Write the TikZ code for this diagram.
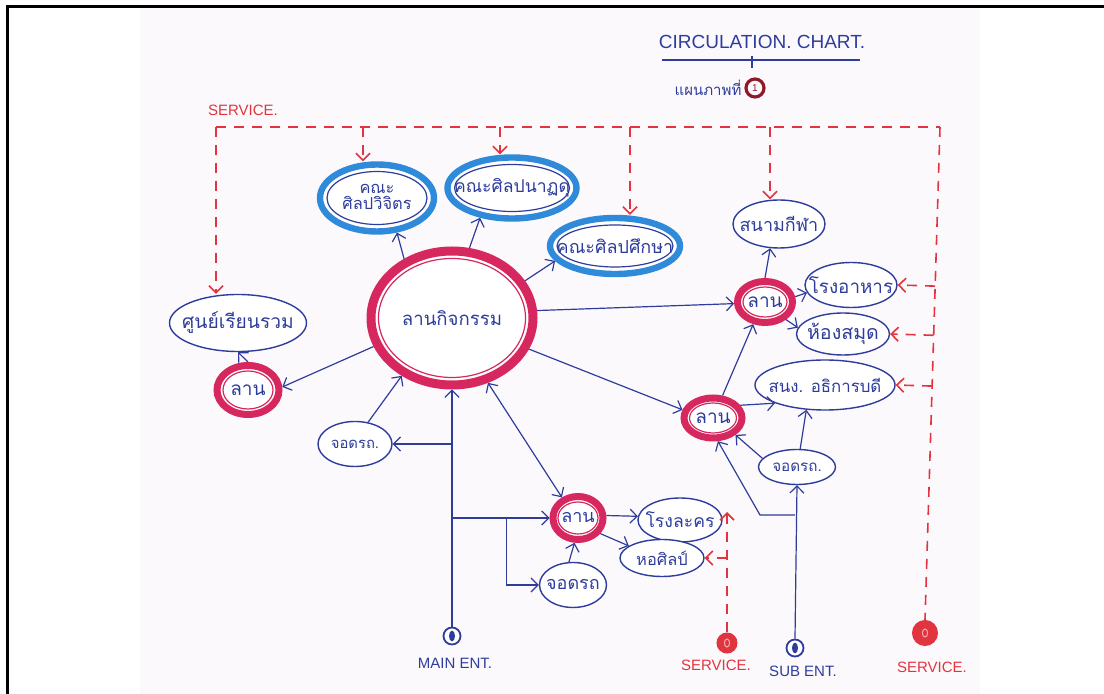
\documentclass[tikz,border=0pt]{standalone}
\usepackage{fontspec}
\setmainfont{Liberation Sans}
\newfontfamily\thai[Script=Thai]{Loma}
\usetikzlibrary{shapes.geometric,arrows.meta,calc}
\definecolor{ink}{HTML}{2E3D9C}
\definecolor{facblue}{HTML}{2F8BDA}
\definecolor{ringred}{HTML}{D6285E}
\definecolor{svcred}{HTML}{E2343F}
\definecolor{paper}{HTML}{FCF9FD}
\definecolor{darkred}{HTML}{8E1A2A}
\newcommand\zt[1]{\makebox[0pt]{#1}}
\begin{document}
\begin{tikzpicture}[x=0.5pt,y=-0.5pt,
  >={Straight Barb[length=3.5pt,width=7pt]},
  fs/.style={font={\thai\fontsize{#1}{#1}\selectfont}},
  conn/.style={draw=ink, line width=0.6pt},
  svc/.style={draw=svcred, line width=0.8pt, dash pattern=on 5pt off 4pt},
  place/.style={ellipse, draw=ink, line width=0.7pt, fill=white, inner sep=0pt, text=ink, fs=9},
  facout/.style={ellipse, draw=facblue, line width=3.2pt, fill=white, inner sep=0pt},
  facin/.style={ellipse, draw=ink, line width=0.6pt, inner sep=0pt, text=ink, fs=9},
  ringout/.style={ellipse, draw=ringred, line width=3.5pt, fill=white, inner sep=0pt},
  ringin/.style={ellipse, draw=ringred, line width=0.6pt, inner sep=0pt, text=ink, fs=9.5},
  entB/.style={circle, draw=ink, line width=0.9pt, minimum size=8.5pt, inner sep=0pt, fill=white,
    path picture={\fill[ink, rotate=15] (path picture bounding box.center) ellipse (1.5pt and 2.7pt);}},
  entR/.style={circle, draw=svcred, fill=svcred, line width=1pt, inner sep=0pt,
    path picture={\draw[svcred!40!white, line width=0.5pt] (path picture bounding box.center) ellipse (1.3pt and 2pt);}},
  lab/.style={font=\fontsize{7.5}{9}\selectfont}
]
\useasboundingbox (0,0) rectangle (1104,694);
\fill[white] (0,0) rectangle (1104,694);
\fill[paper] (140,8) rectangle (980,694);
\draw[black, line width=1.5pt] (7,694) -- (7,7) -- (1104,7);

% title
\node[font=\fontsize{9.5}{11}\selectfont, text=ink] (title) at (762,42) {CIRCULATION. CHART.};
\draw[ink, line width=0.8pt] (662,60) -- (860,60);
\draw[ink, line width=0.6pt] (752,56) -- (752,68);
\node[text=ink, fs=7.5] (sheet) at (708,88) {แผนภาพที่};
\node[circle, draw=darkred, line width=1.6pt, minimum size=9pt, inner sep=0pt, text=darkred, font=\fontsize{5}{5}\selectfont] (num) at (755,88) {1};

% nodes
\node[ringout, line width=4.5pt, minimum width=81pt, minimum height=67pt] (main) at (452,318) {};
\node[ringin, minimum width=73.5pt, minimum height=59.5pt, fs=9.3] (maini) at (main) {\zt{ลานกิจกรรม}};

\node[facout, minimum width=57pt, minimum height=33.5pt] (facA) at (377,198) {};
\node[facin, minimum width=50pt, minimum height=26.5pt, fs=8.2] (facAi) at (facA) {\zt{\begin{tabular}{@{}c@{}}คณะ\\[-1pt]ศิลปวิจิตร\end{tabular}}};
\node[facout, minimum width=64.5pt, minimum height=30.5pt] (facB) at (512,188) {};
\node[facin, minimum width=57.5pt, minimum height=23.5pt, fs=8.8] (facBi) at (facB) {\zt{คณะศิลปนาฏดุ}};
\node[facout, minimum width=65pt, minimum height=28pt] (facC) at (615,246) {};
\node[facin, minimum width=58pt, minimum height=21pt, fs=9] (facCi) at (facC) {\zt{คณะศิลปศึกษา}};

\node[place, minimum width=68.5pt, minimum height=28.5pt, fs=9.6] (sun) at (238,323) {\zt{ศูนย์เรียนรวม}};
\node[ringout, minimum width=31pt, minimum height=24.5pt] (lanL) at (248,390) {};
\node[ringin, minimum width=25pt, minimum height=19pt] (lanLi) at (lanL) {\zt{ลาน}};
\node[place, minimum width=37pt, minimum height=22.5pt, fs=7.4] (parkL) at (355,444) {\zt{จอดรถ.}};

\node[place, minimum width=46pt, minimum height=24pt, fs=9] (stad) at (779,224) {\zt{สนามกีฬา}};
\node[ringout, minimum width=27.5pt, minimum height=20.5pt] (lanT) at (765,302) {};
\node[ringin, minimum width=22pt, minimum height=15pt] (lanTi) at (lanT) {\zt{ลาน}};
\node[place, minimum width=46pt, minimum height=22.5pt, fs=9.4] (canteen) at (851,285) {\zt{โรงอาหาร}};
\node[place, minimum width=46.5pt, minimum height=21pt, fs=9.8] (lib) at (843,334) {\zt{ห้องสมุด}};
\node[place, minimum width=70pt, minimum height=25pt, fs=8.4] (office) at (825,385) {\zt{สนง. อธิการบดี}};
\node[ringout, minimum width=29pt, minimum height=20pt] (lanM) at (713,418) {};
\node[ringin, minimum width=23.5pt, minimum height=15pt] (lanMi) at (lanM) {\zt{ลาน}};
\node[place, minimum width=38.5pt, minimum height=17.5pt, fs=7.6] (parkR) at (797,467) {\zt{จอดรถ.}};

\node[ringout, minimum width=25pt, minimum height=21.5pt] (lanB) at (578,518) {};
\node[ringin, minimum width=20pt, minimum height=16pt, fs=9] (lanBi) at (lanB) {\zt{ลาน}};
\node[place, minimum width=42pt, minimum height=22pt, fs=8.8] (theatre) at (680,520) {\zt{โรงละคร}};
\node[place, minimum width=42pt, minimum height=18.5pt, fs=8.2] (gallery) at (662,558) {\zt{หอศิลป์}};
\node[place, minimum width=33.5pt, minimum height=22.5pt, fs=9] (parkB) at (573,585) {\zt{จอดรถ}};

% entrances
\node[entB] (mainE) at (452,636) {};
\node[entR, minimum size=9.5pt] (svcL) at (727,643) {};
\node[entB] (subE) at (795,648) {};
\node[entR, minimum size=12pt] (svcR) at (925,633) {};
\node[lab, text=ink] (mainL) at (455,663) {MAIN ENT.};
\node[lab, text=svcred] (svcLL) at (716,665) {SERVICE.};
\node[lab, text=ink] (subL) at (803,671) {SUB ENT.};
\node[lab, text=svcred] (svcRL) at (932,667) {SERVICE.};
\node[lab, text=svcred] (svcTop) at (243,110) {SERVICE.};

% blue connectors
\draw[conn,->] (main.129) -- (facA.300);
\draw[conn,->] (main.76) -- (facB.223);
\draw[conn,->] (main.27) -- (facC.194);
\draw[conn,->] (main.5) -- (lanT.183);
\draw[conn,->] (main.-22) -- (lanM.165);
\draw[conn,->] (main.200) -- (lanL.5);
\draw[conn,->] (lanL.north) -- (sun.south);
\draw[conn,->] (parkL.59) -- (main.229);
\draw[conn,->] (mainE.north) -- (main.south);
\coordinate (j1) at (mainE.north |- parkL.east);
\draw[conn,->] (j1) -- (parkL.east);
\coordinate (j2) at (mainE.north |- lanB.west);
\draw[conn,->] (j2) -- (lanB.west);
\coordinate (j3) at ($(lanB.west)+(-43,0)$);
\draw[conn,->] (j3) |- (parkB.west);
\draw[conn,<->] (lanB.128) -- (main.299);
\draw[conn,->] (parkB.100) -- (lanB.262);
\draw[conn,->] (lanB.5) -- (theatre.175);
\draw[conn,->] (lanB.-35) -- (gallery.160);
\draw[conn,->] (lanM.67) -- (lanT.242);
\draw[conn,->] (lanM.25) -- (office.200);
\draw[conn,->] (parkR.166) -- (lanM.-37);
\draw[conn,->] (parkR.80) -- (office.233);
\draw[conn,->] (subE.north) -- (parkR.south);
\coordinate (j4) at (subE.north |- 0,515);
\coordinate (j5) at (760,515);
\draw[conn,->] (j4) -- (j5) -- (lanM.-78);
\draw[conn,->] (lanT.north) -- (stad.250);
\draw[conn,->] (lanT.10) -- (canteen.190);
\draw[conn,->] (lanT.-40) -- (lib.172);

% service (red dashed)
\coordinate (d1) at (216,127);
\coordinate (d2) at (363,127);
\coordinate (d3) at (500,127);
\coordinate (d4) at (630,127);
\coordinate (d5) at (770,127);
\coordinate (tr) at (940,127);
\draw[svc] (d1) -- (tr);
\draw[svc,->] (d1) -- (d1 |- sun.north);
\draw[svc,->] (d2) -- (d2 |- facA.north);
\draw[svc,->] (d3) -- (d3 |- facB.north);
\draw[svc,->] (d4) -- (d4 |- facC.north);
\draw[svc,->] (d5) -- (d5 |- stad.north);
\draw[svc] (tr) -- (svcR.north);
\draw[svc,->] ($(tr)!(canteen.east)!(svcR.north)$) -- (canteen.east);
\draw[svc,->] ($(tr)!(lib.east)!(svcR.north)$) -- (lib.east);
\draw[svc,->] ($(tr)!(office.east)!(svcR.north)$) -- (office.east);
\draw[svc,->] (svcL.north) -- ($(svcL.north |- theatre.east)+(0,-8)$);
\draw[svc,->] (svcL.north |- gallery.east) -- (gallery.east);
\end{tikzpicture}
\end{document}
